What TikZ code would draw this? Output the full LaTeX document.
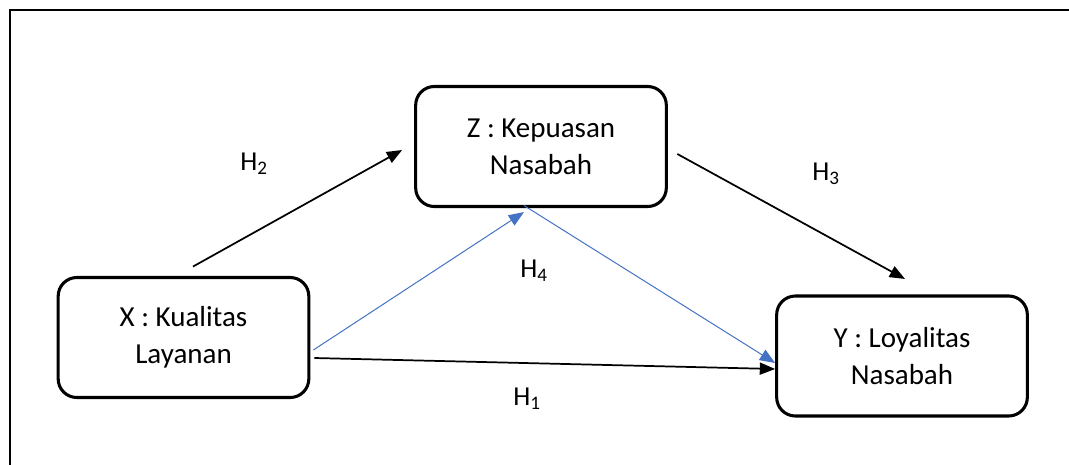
\documentclass[tikz,border=0pt]{standalone}
\usepackage{fontspec}
\setmainfont{Carlito}
\usetikzlibrary{arrows.meta,calc}
\definecolor{pathblue}{RGB}{68,114,196}
\begin{document}
\begin{tikzpicture}[x=0.75pt,y=-0.75pt,
  varbox/.style={draw,line width=2.3pt,rounded corners=14pt,
    minimum width=188pt,minimum height=90pt,align=center,inner sep=0pt,
    font=\fontsize{21.75pt}{28pt}\selectfont},
  hyp/.style={anchor=base west,inner sep=0pt,
    font=\fontsize{20.5pt}{24pt}\selectfont},
  blackarrow/.style={draw=black,line width=1.3pt,
    -{Triangle[length=11.5pt,width=9pt]}},
  bluearrow/.style={draw=pathblue,line width=0.75pt,
    -{Triangle[length=11.5pt,width=9pt]}}]
\useasboundingbox (0,0) rectangle (1069,464);

% outer frame (left and top sides)
\draw[line width=2.2pt] (10,470) -- (10,10) -- (1075,10);

% variables
\node[varbox] (X) at (183.5,337.5) {X : Kualitas\\Layanan};
\node[varbox] (Z) at (541,146.5) {Z : Kepuasan\\Nasabah};
\node[varbox] (Y) at (902,356) {Y : Loyalitas\\Nasabah};

% arrow end points
\coordinate (h2s) at ($(X.north)+(9.5,-9.4)$);
\coordinate (h2e) at ($(Z.west)+(-12,3.5)$);
\coordinate (h3s) at ($(Z.east)+(9.5,7.5)$);
\coordinate (h3e) at ($(Y.north)+(3,-15.5)$);
\coordinate (h4a) at ($(X.east)+(3,12.5)$);
\coordinate (h4b) at ($(Z.south)+(-17,4)$);
\coordinate (h4c) at ($(Z.south)+(-17,-2.5)$);
\coordinate (h4d) at ($(Y.west)+(0,7)$);
\coordinate (h1s) at ($(X.east)+(4,20.5)$);
\coordinate (h1e) at ($(Y.west)+(0,13)$);

% paths
\draw[blackarrow] (h2s) -- (h2e);
\draw[blackarrow] (h3s) -- (h3e);
\draw[bluearrow] (h4a) -- (h4b);
\draw[bluearrow] (h4c) -- (h4d);
\draw[blackarrow] (h1s) -- (h1e);

% hypothesis labels
\node[hyp] (l2) at (240,170) {H\textsubscript{2}};
\node[hyp] (l3) at (812,180) {H\textsubscript{3}};
\node[hyp] (l4) at (520,277) {H\textsubscript{4}};
\node[hyp] (l1) at (513,405) {H\textsubscript{1}};
\end{tikzpicture}
\end{document}
